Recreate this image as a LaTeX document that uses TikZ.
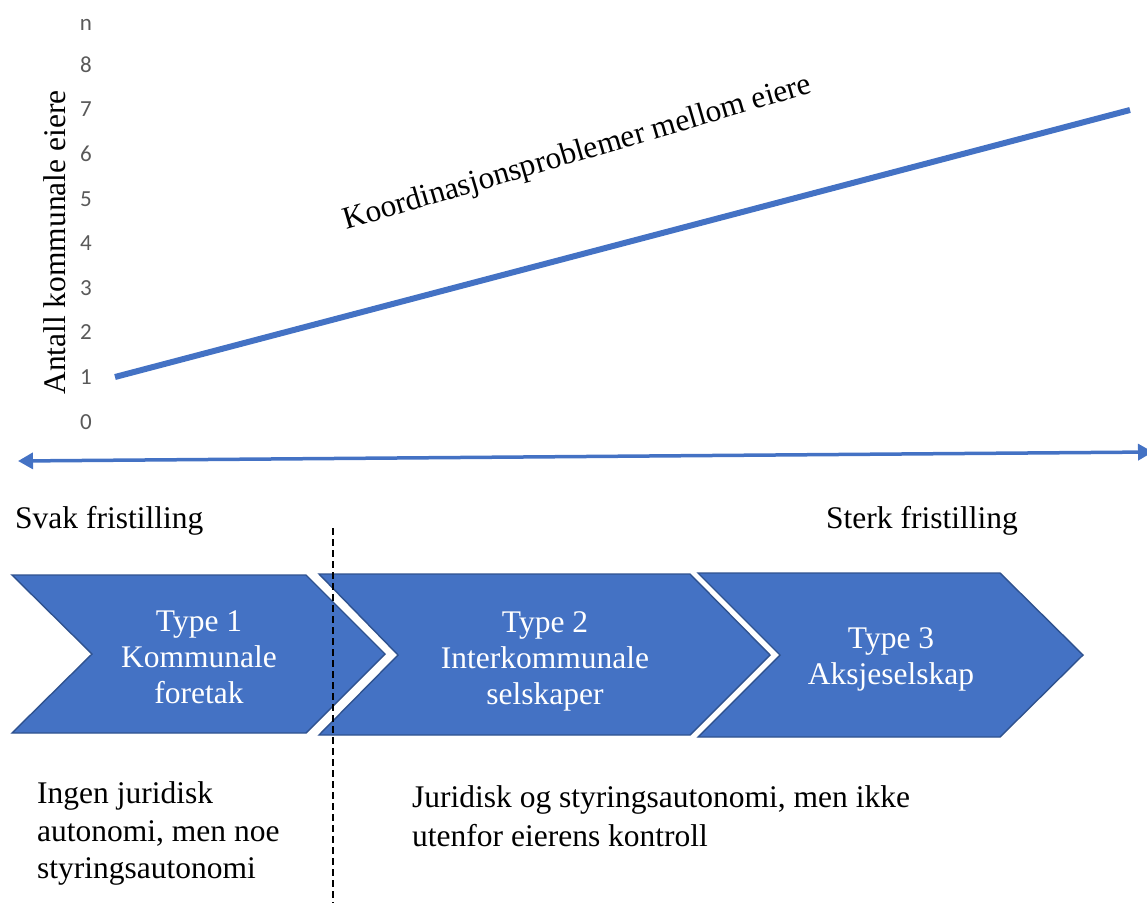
\documentclass[tikz,border=0pt]{standalone}
\usepackage{fontspec}
\setmainfont{Liberation Serif}
\newfontfamily\tickfont{Carlito}
\usetikzlibrary{arrows.meta}

\definecolor{chevblue}{RGB}{68,114,196}
\definecolor{chevedge}{RGB}{47,82,143}
\definecolor{tickgray}{RGB}{89,89,89}

\tikzset{
  chevron/.style={fill=chevblue, draw=chevedge, line width=1.4pt, line join=miter},
  txt/.style={inner sep=0pt, font=\fontsize{31.5}{36}\selectfont},
  chevtxt/.style={txt, text=white, align=center},
  ticklbl/.style={inner sep=0pt, text=tickgray, font=\tickfont\fontsize{23}{26}\selectfont},
  trend/.style={draw=chevblue, line width=6pt},
  scaleaxis/.style={draw=chevblue, line width=3.5pt,
    {Triangle[length=15pt,width=16pt]}-{Triangle[length=15pt,width=16pt]}},
  divider/.style={draw=black, line width=1.8pt, dash pattern=on 7pt off 4pt}
}

\begin{document}
\begin{tikzpicture}[x=1pt, y=-1pt]
\useasboundingbox (0,0) rectangle (1147,907);

% ownership scale (tick labels)
\foreach \lbl/\yy in {n/25, 8/65, 7/109, 6/154, 5/199, 4/243, 3/288, 2/332, 1/377, 0/422}
  \node[ticklbl] (tick\lbl) at (86,\yy) {\lbl};

\node[txt, rotate=90, anchor=base] (ylabel) at (65,242.5) {Antall kommunale eiere};

% coordination problems grow with the number of owners
\coordinate (trendstart) at (115,377);
\coordinate (trendend) at (1130,110);
\draw[trend] (trendstart) -- (trendend);
\node[txt, rotate=16.4, anchor=base] (trendlbl) at (580,161) {Koordinasjonsproblemer mellom eiere};

% degree of independence
\coordinate (axisleft) at (18,461);
\coordinate (axisright) at (1153,452);
\draw[scaleaxis] (axisleft) -- (axisright);

\node[txt, anchor=base west] (svak) at (15,528) {Svak fristilling};
\node[txt, anchor=base east] (sterk) at (1018,528) {Sterk fristilling};

% the three company forms
\draw[chevron] (12,575) -- (306,575) -- (385,654) -- (306,733) -- (12,733) -- (92,654) -- cycle;
\draw[chevron] (319,574) -- (690,574) -- (770,655) -- (690,735) -- (319,735) -- (398,655) -- cycle;
\draw[chevron] (698,573) -- (1000,573) -- (1083,655) -- (1000,737) -- (698,737) -- (780,655) -- cycle;

\node[chevtxt] (type1) at (199,657.5) {Type 1\\Kommunale\\foretak};
\node[chevtxt] (type2) at (545,661) {Type 2\\Interkommunale\\selskaper};
\node[chevtxt] (type3) at (891,659) {Type 3\\Aksjeselskap};

% boundary between no legal autonomy and legal autonomy
\coordinate (divtop) at (333,528);
\coordinate (divbot) at (333,903);
\draw[divider] (divtop) -- (divbot);

\node[txt, align=left, anchor=north west, font=\fontsize{31.5}{37.5}\selectfont] (left)
  at (37,781.5) {Ingen juridisk\\autonomi, men noe\\styringsautonomi};
\node[txt, align=left, anchor=north west, font=\fontsize{31.5}{38.5}\selectfont] (right)
  at (412,785.5) {Juridisk og styringsautonomi, men ikke\\utenfor eierens kontroll};
\end{tikzpicture}
\end{document}
